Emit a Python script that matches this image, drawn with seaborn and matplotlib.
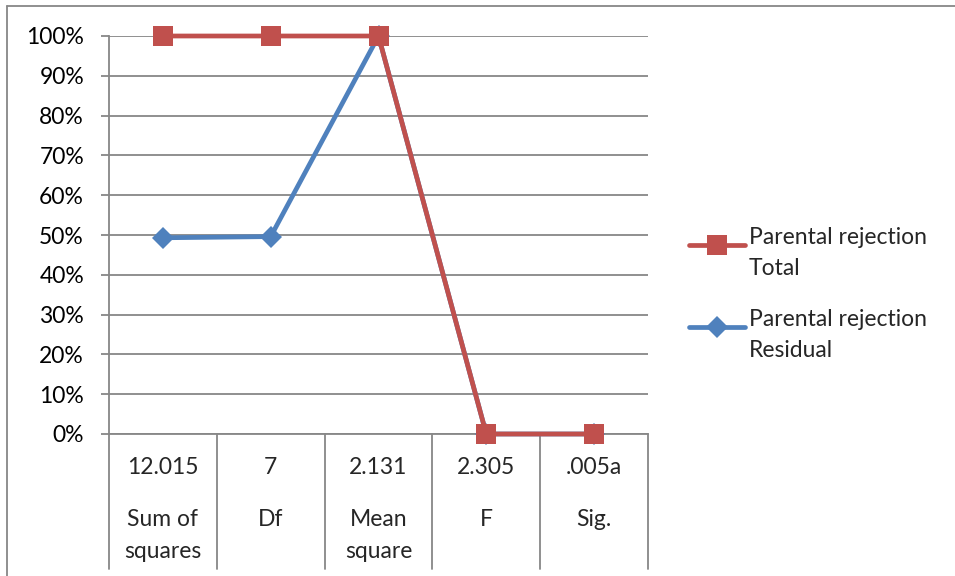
import matplotlib
matplotlib.use("Agg")
import matplotlib.pyplot as plt
import matplotlib.transforms as mtransforms
from matplotlib.lines import Line2D
from matplotlib.legend_handler import HandlerLine2D
import seaborn as sns
import pandas as pd

# ---- data ----
values_row = ["12.015", "7", "2.131", "2.305", ".005a"]
names_row = ["Sum of\nsquares", "Df", "Mean\nsquare", "F", "Sig."]
total = [1.00, 1.00, 1.00, 0.00, 0.00]
residual = [0.493, 0.496, 1.00, 0.00, 0.00]
series_total = "Parental rejection\nTotal"
series_residual = "Parental rejection\nResidual"
y_ticks = [0.0, 0.1, 0.2, 0.3, 0.4, 0.5, 0.6, 0.7, 0.8, 0.9, 1.0]

RED = "#C0504D"
BLUE = "#4F81BD"
GRID = "#878787"
FS = 16.5
SQ = 14
DM = 11.5

sns.set_theme(style="white")
plt.rcParams["font.family"] = ["Lato", "DejaVu Sans"]

fig = plt.figure(figsize=(9.55, 5.76), dpi=100)
ax = fig.add_axes([109 / 955, 1 - 434 / 576, (648 - 109) / 955, (434 - 36) / 576])

pos = list(range(len(values_row)))
df_r = pd.DataFrame({"x": pos, "y": residual})
df_t = pd.DataFrame({"x": pos, "y": total})

sns.lineplot(data=df_r, x="x", y="y", ax=ax, color=BLUE, linewidth=3.4,
             marker="D", markersize=DM, markeredgecolor=BLUE, markeredgewidth=0,
             label=series_residual, zorder=3, clip_on=False)
sns.lineplot(data=df_t, x="x", y="y", ax=ax, color=RED, linewidth=3.4,
             marker="s", markersize=SQ, markeredgecolor=RED, markeredgewidth=0,
             label=series_total, zorder=4, clip_on=False)

ax.set_xlim(-0.5, len(pos) - 0.5)
ax.set_ylim(0, 1)
ax.set_yticks(y_ticks)
ax.set_yticklabels([f"{int(round(t * 100))}%" for t in y_ticks], fontsize=FS, color="black")
ax.set_xticks([])
ax.set_xlabel("")
ax.set_ylabel("")
ax.yaxis.grid(True, color=GRID, linewidth=1.3)
ax.set_axisbelow(True)
ax.tick_params(axis="y", which="both", left=True, length=6, width=1.3, color=GRID, pad=12)

for s in ["top", "right"]:
    ax.spines[s].set_visible(False)
for s in ["left", "bottom"]:
    ax.spines[s].set_color(GRID)
    ax.spines[s].set_linewidth(1.3)

# category table below axis
H = 398.0
trans = mtransforms.blended_transform_factory(ax.transData, ax.transAxes)
tb = -(569 - 434) / H
for b in [i + 0.5 for i in range(len(pos))]:
    ax.plot([b, b], [0, tb], transform=trans, color=GRID, linewidth=1.3, clip_on=False)
ax.plot([-0.5, -0.5], [0, tb], transform=trans, color=GRID, linewidth=1.3, clip_on=False)

for i, (v, n) in enumerate(zip(values_row, names_row)):
    ax.text(i, -(467 - 434) / H, v, transform=trans, ha="center", va="center", fontsize=FS)
    for k, line in enumerate(n.split("\n")):
        ax.text(i, -(520 + 32 * k - 434) / H, line, transform=trans, ha="center",
                va="center", fontsize=FS)


# legend (Total first), handle aligned with first label line
class FirstLineHandler(HandlerLine2D):
    def create_artists(self, legend, orig_handle, xdescent, ydescent, width, height,
                       fontsize, trans):
        return super().create_artists(legend, orig_handle, xdescent, ydescent - 12.0,
                                      width, height, fontsize, trans)


handles = [
    Line2D([], [], color=RED, linewidth=3.4, marker="s", markersize=SQ, markeredgewidth=0),
    Line2D([], [], color=BLUE, linewidth=3.4, marker="D", markersize=DM, markeredgewidth=0),
]
leg = ax.legend(handles, [series_total, series_residual], loc="upper left",
                bbox_to_anchor=(689 / 955, 1 - 227 / 576), bbox_transform=fig.transFigure,
                frameon=False, fontsize=FS, handlelength=2.45, handletextpad=0.15,
                labelspacing=1.3, borderaxespad=0, borderpad=0,
                handler_map={Line2D: FirstLineHandler()})
for t in leg.get_texts():
    t.set_linespacing(1.6)

# chart-area border (top and left visible)
fig.add_artist(Line2D([7 / 955, 7 / 955], [0, 1 - 5.5 / 576], transform=fig.transFigure,
                      color=GRID, linewidth=1.3))
fig.add_artist(Line2D([7 / 955, 1], [1 - 5.5 / 576, 1 - 5.5 / 576], transform=fig.transFigure,
                      color=GRID, linewidth=1.3))

fig.savefig("out.png", dpi=100)
